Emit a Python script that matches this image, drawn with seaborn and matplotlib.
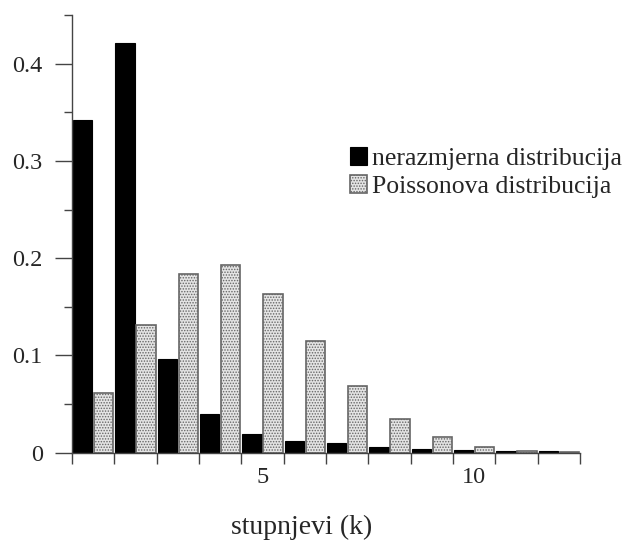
import matplotlib
matplotlib.use("Agg")
import matplotlib.pyplot as plt
from matplotlib.ticker import FixedLocator, MultipleLocator, FuncFormatter
import seaborn as sns
import pandas as pd

# Data
degrees = [1, 2, 3, 4, 5, 6, 7, 8, 9, 10, 11, 12]
nerazmjerna = [0.342, 0.421, 0.096, 0.040, 0.019, 0.012, 0.0097, 0.0062, 0.0038, 0.0028, 0.002, 0.0018]
poisson = [0.061, 0.131, 0.184, 0.193, 0.163, 0.115, 0.069, 0.035, 0.0164, 0.0062, 0.002, 0.0007]
series_names = ["nerazmjerna distribucija", "Poissonova distribucija"]
x_labels_shown = {5: "5", 10: "10"}
y_ticks = [0, 0.1, 0.2, 0.3, 0.4]
x_label = "stupnjevi (k)"

df = pd.DataFrame({
    "k": [str(k) for k in degrees] * 2,
    "p": nerazmjerna + poisson,
    "serija": [series_names[0]] * len(degrees) + [series_names[1]] * len(degrees),
})

sns.set_style("white")
plt.rcParams["font.family"] = ["Liberation Serif", "DejaVu Serif"]
plt.rcParams["hatch.linewidth"] = 0.7

fig = plt.figure(figsize=(6.26, 5.42), dpi=100)
ax = fig.add_axes([0.1150, 0.1648, 0.8115, 0.8075])

sns.barplot(data=df, x="k", y="p", hue="serija", order=[str(k) for k in degrees],
            hue_order=series_names, palette={series_names[0]: "black", series_names[1]: "#e4e4e4"},
            width=1.0, gap=0.08, ax=ax, legend=False, saturation=1)

for bar in ax.containers[0]:
    bar.set_edgecolor("black")
    bar.set_linewidth(0.8)
for bar in ax.containers[1]:
    bar.set_edgecolor("#666666")
    bar.set_hatch("......")
    bar.set_linewidth(1.2)

ax.set_xlim(-0.5, len(degrees) - 0.5)
ax.set_ylim(0, 0.45)

# y axis
ax.yaxis.set_major_locator(FixedLocator(y_ticks))
ax.yaxis.set_minor_locator(MultipleLocator(0.05))
ax.yaxis.set_major_formatter(FuncFormatter(lambda v, p: "0" if abs(v) < 1e-9 else f"{v:.1f}"))

# x axis: labels at category centres, tick marks at category boundaries
pos = [degrees.index(k) for k in x_labels_shown]
ax.xaxis.set_major_locator(FixedLocator(pos))
ax.set_xticklabels(list(x_labels_shown.values()))
ax.xaxis.set_minor_locator(FixedLocator([i - 0.5 for i in range(len(degrees) + 1)]))

ax.tick_params(axis="y", which="major", direction="out", length=12, width=1, color="#444444",
               labelsize=17.5, pad=9, left=True)
ax.tick_params(axis="y", which="minor", direction="out", length=6, width=1, color="#444444", left=True)
ax.tick_params(axis="x", which="major", length=0, labelsize=17.5, pad=10, bottom=True)
ax.tick_params(axis="x", which="minor", direction="out", length=8, width=1, color="#444444", bottom=True)

for s in ["top", "right"]:
    ax.spines[s].set_visible(False)
for s in ["left", "bottom"]:
    ax.spines[s].set_color("#444444")
    ax.spines[s].set_linewidth(1.0)

ax.set_ylabel("")
ax.set_xlabel(x_label, fontsize=20, va="bottom")
ax.xaxis.set_label_coords(0.453, -0.200)

ax.legend(handles=[ax.containers[0], ax.containers[1]], labels=series_names,
          loc="upper left", bbox_to_anchor=(0.559, 0.729), bbox_transform=fig.transFigure,
          frameon=False, fontsize=18.5, handlelength=0.66, handleheight=0.7,
          handletextpad=0.2, labelspacing=0.2, borderpad=0, borderaxespad=0)

fig.savefig("out.png", dpi=100)
